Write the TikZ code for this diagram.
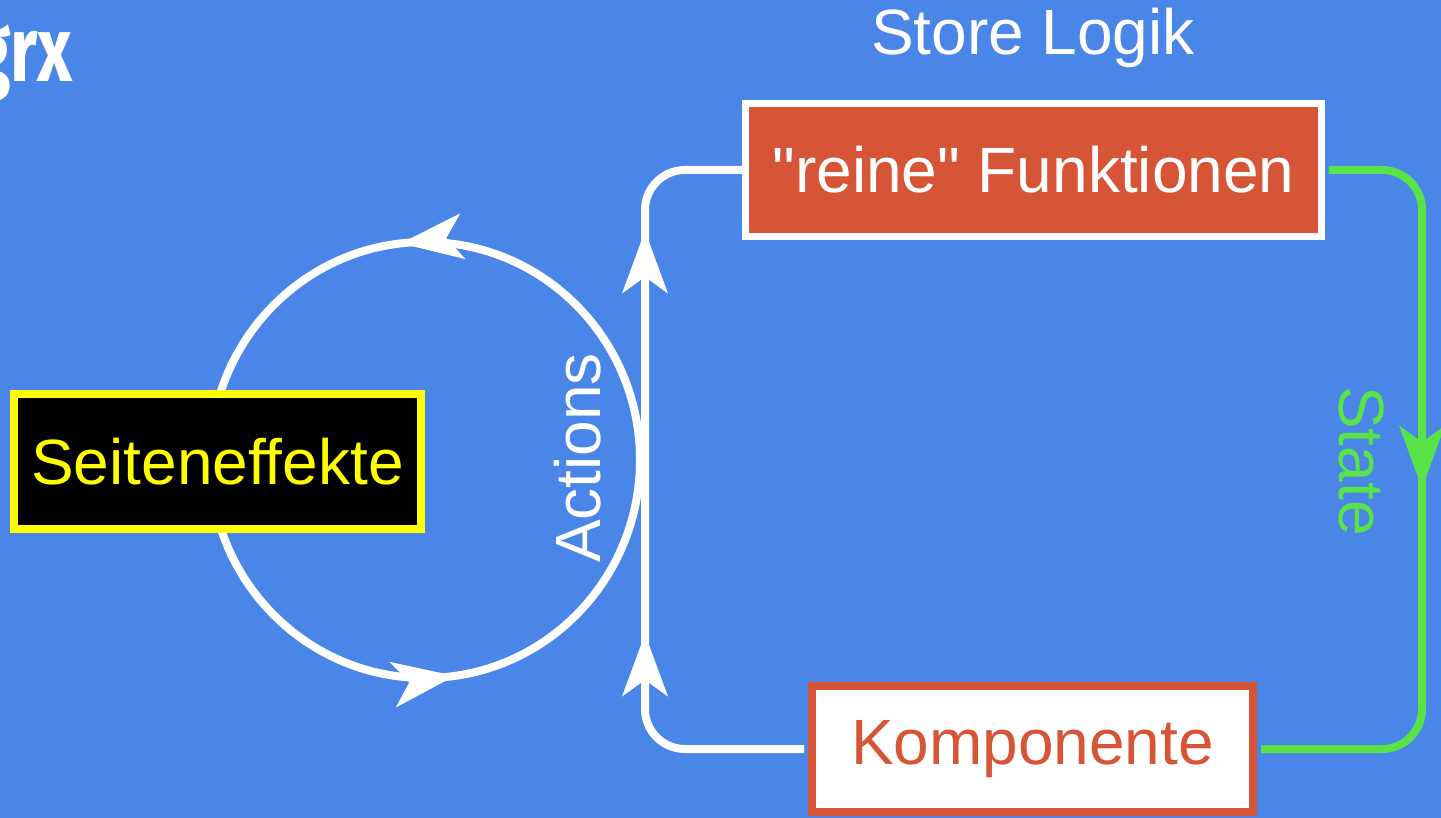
\documentclass[tikz,border=0pt]{standalone}
\usepackage{fontspec}
\setmainfont{Liberation Sans}
\newfontfamily\titlefont{Fira Sans}
\usepackage{xcolor}
\usetikzlibrary{positioning,calc,arrows.meta,decorations.markings}
\definecolor{slideblue}{HTML}{4A86E8}
\definecolor{boxred}{HTML}{D75537}
\definecolor{stategreen}{HTML}{59E348}
\definecolor{sideyellow}{HTML}{FFFF00}
\tikzset{bigstealth/.tip={Stealth[length=62pt,width=45pt,inset=16pt]}}

\begin{document}
\begin{tikzpicture}[x=1pt, y=-1pt,
    label/.style={inner sep=0pt, font=\fontsize{64}{70}\selectfont},
    box/.style={label, rectangle, line width=7pt},
    flow/.style={white, line width=8pt, rounded corners=40pt},
    twomarks/.style 2 args={postaction={decorate}, decoration={markings,
        mark=at position #1 with {\arrow{bigstealth}},
        mark=at position #2 with {\arrow{bigstealth}}}},
    onemark/.style={postaction={decorate}, decoration={markings,
        mark=at position #1 with {\arrow{bigstealth}}}}]
    \fill[slideblue] (0,0) rectangle (1441,818);
    \useasboundingbox (0,0) rectangle (1441,818);
    \clip (0,0) rectangle (1441,818);
    % title, cut at the left border
    \node[anchor=base east, inner sep=0pt, xscale=0.74, white,
        font=\titlefont\bfseries\fontsize{92}{96}\selectfont] (title) at (73,82) {grx};
    % side effect loop
    \draw[white, line width=8pt, twomarks={0.268}{0.772}]
        (640,460) arc[start angle=0, end angle=-360, x radius=215, y radius=218];
    \node[box, line width=8pt, draw=sideyellow, fill=black, text=sideyellow,
        minimum width=407pt, minimum height=135pt] (seite) at (217.5,461.5) {Seiteneffekte};
    % store
    \node[label, white] (store) at (1033,38) {Store Logik};
    \node[box, draw=white, fill=boxred, text=white,
        minimum width=576pt, minimum height=133pt] (reine) at (1033.5,170)
        {\textquotedbl reine\textquotedbl{} Funktionen};
    \node[box, line width=8pt, draw=boxred, fill=white, text=boxred,
        minimum width=441pt, minimum height=126pt] (komp) at (1032.5,749) {Komponente};
    \coordinate (lowturn) at (645,749);
    \coordinate (highturn) at (645,170);
    \coordinate (stateturn) at (1422,170);
    \coordinate (statelow) at (1422,749);
    \draw[flow, shorten <=4pt, twomarks={261pt}{664pt}]
        (komp.west) -- (lowturn) -- (highturn) -- (reine.west);
    \draw[flow, stategreen, shorten <=3.5pt, shorten >=4pt, onemark={398pt}]
        (reine.east) -- (stateturn) -- (statelow) -- (komp.east);
    \node[label, white, rotate=90] (actions) at (578,458) {Actions};
    \node[label, stategreen, rotate=-90] (state) at (1362,461) {State};
\end{tikzpicture}
\end{document}
